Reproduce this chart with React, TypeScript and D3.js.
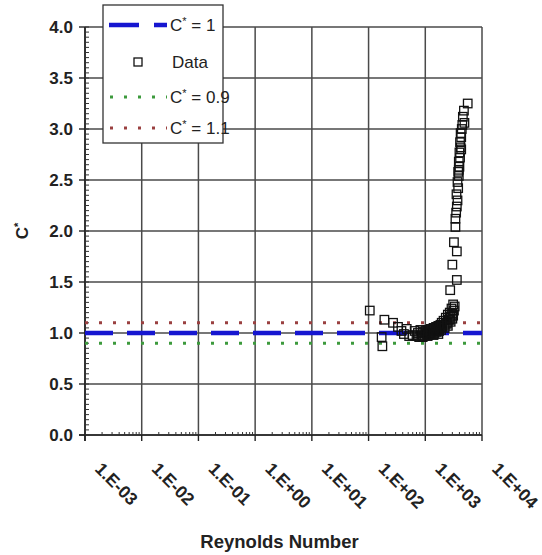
import React from "react";
import * as d3 from "d3";

// Reynolds number vs. C* observations
const reynolds: number[] = [
  // sparse low-Re points
  105, 190, 170, 175, 270, 330, 380, 420, 470, 520,
  // plateau near C* = 1
  600, 650, 700, 740, 780, 820, 860, 900, 950, 1000, 1050, 1100, 1150, 1200,
  1250, 1300, 1350, 1400, 1450, 1500, 1550, 1600, 1650, 1700, 1750, 1800,
  900, 1000, 1100, 1250, 1400, 1550, 1700,
  // onset of the rise
  1850, 1900, 1950, 2000, 2100, 2200, 2300, 2400, 2500, 2600, 2700, 2800,
  2900, 3000, 3100, 3200, 2200, 2500, 2800, 3000, 3300, 2400, 2700, 3100,
  // steep branch
  2750, 3600, 3000, 3600, 3200, 3400, 3400, 3500, 3600, 3700, 3550, 3800,
  3700, 3900, 3800, 4000, 3900, 4100, 4000, 4200, 4100, 4300, 4200, 4400,
  4500, 4900, 5600, 4600, 4800, 3900, 4300,
];
const cStar: number[] = [
  1.22, 1.13, 0.96, 0.87, 1.1, 1.06, 1.02, 0.99, 1.04, 0.97,
  0.98, 1.02, 0.97, 1.0, 0.96, 1.03, 0.98, 1.01, 0.97, 1.02, 0.99, 1.03,
  0.98, 1.0, 1.04, 0.99, 1.02, 1.05, 1.0, 1.03, 1.06, 1.01, 1.04, 1.07,
  1.02, 1.05, 0.96, 1.0, 0.97, 1.01, 0.98, 1.02, 0.99,
  1.08, 1.03, 1.1, 1.06, 1.12, 1.08, 1.15, 1.1, 1.18, 1.13, 1.2, 1.16, 1.24,
  1.19, 1.28, 1.22, 1.05, 1.07, 1.11, 1.14, 1.26, 1.09, 1.13, 1.17,
  1.42, 1.52, 1.67, 1.8, 1.89, 2.04, 2.12, 2.18, 2.24, 2.3, 2.36, 2.42,
  2.48, 2.54, 2.58, 2.63, 2.68, 2.72, 2.77, 2.82, 2.87, 2.92, 2.96, 3.0,
  3.04, 3.06, 3.25, 3.12, 3.18, 2.6, 2.8,
];

const xTickLabels = ["1.E-03", "1.E-02", "1.E-01", "1.E+00", "1.E+01", "1.E+02", "1.E+03", "1.E+04"];
const xDecades = [1e-3, 1e-2, 1e-1, 1, 10, 100, 1000, 10000];
const yTicks = [0, 0.5, 1, 1.5, 2, 2.5, 3, 3.5, 4];
const yTickLabels = ["0.0", "0.5", "1.0", "1.5", "2.0", "2.5", "3.0", "3.5", "4.0"];
const refLevels = [1, 0.9, 1.1];

const FONT = "Liberation Sans, Arial, sans-serif";

export default function App() {
  const W = 542;
  const H = 555;
  const left = 85;
  const right = 482;
  const top = 27;
  const bottom = 435;

  const x = d3.scaleLog().domain([1e-3, 1e4]).range([left, right]);
  const y = d3.scaleLinear().domain([0, 4]).range([bottom, top]);

  const minorX: number[] = [];
  for (let i = 0; i < xDecades.length - 1; i++) {
    for (let k = 2; k <= 9; k++) minorX.push(xDecades[i] * k);
  }
  const minorY = d3.range(0, 4.0001, 0.05);

  const points = reynolds.map((r, i) => ({ r, c: cStar[i] }));
  const sq = 8.5;

  const gridColor = "#4a4a4a";

  return (
    <svg
      width={W}
      height={H}
      style={{ position: "absolute", left: 0, top: 0, background: "#fff" }}
      fontFamily={FONT}
    >
      {/* grid */}
      {yTicks.map((t) => (
        <line key={"gy" + t} x1={left} x2={right} y1={y(t)} y2={y(t)} stroke={gridColor} strokeWidth={1.5} />
      ))}
      {xDecades.map((d) => (
        <line key={"gx" + d} x1={x(d)} x2={x(d)} y1={top} y2={bottom} stroke={gridColor} strokeWidth={1.5} />
      ))}

      {/* axes */}
      <line x1={left} x2={left} y1={top} y2={bottom + 6} stroke="#222" strokeWidth={1.6} />
      <line x1={left - 6} x2={right} y1={bottom} y2={bottom} stroke="#222" strokeWidth={1.6} />
      {yTicks.map((t) => (
        <line key={"ty" + t} x1={left - 6} x2={left} y1={y(t)} y2={y(t)} stroke="#222" strokeWidth={1.4} />
      ))}
      {minorY.map((t, i) => (
        <line key={"my" + i} x1={left} x2={left + 4} y1={y(t)} y2={y(t)} stroke="#333" strokeWidth={1} />
      ))}
      {xDecades.map((d) => (
        <line key={"tx" + d} x1={x(d)} x2={x(d)} y1={bottom} y2={bottom + 6} stroke="#222" strokeWidth={1.4} />
      ))}
      {minorX.map((d, i) => (
        <line key={"mx" + i} x1={x(d)} x2={x(d)} y1={bottom - 3} y2={bottom} stroke="#333" strokeWidth={1} />
      ))}

      {/* reference lines */}
      <line x1={left} x2={right} y1={y(refLevels[1])} y2={y(refLevels[1])} stroke="#3c9a3c" strokeWidth={3} strokeDasharray="3 11" />
      <line x1={left} x2={right} y1={y(refLevels[2])} y2={y(refLevels[2])} stroke="#9a4040" strokeWidth={3} strokeDasharray="3 11" />
      <line x1={left} x2={right} y1={y(refLevels[0])} y2={y(refLevels[0])} stroke="#1616d0" strokeWidth={4.5} strokeDasharray="28 14" />

      {/* data */}
      {points.map((p, i) => (
        <rect
          key={"p" + i}
          x={x(p.r) - sq / 2}
          y={y(p.c) - sq / 2}
          width={sq}
          height={sq}
          fill="none"
          stroke="#111"
          strokeWidth={1.3}
        />
      ))}

      {/* y tick labels */}
      {yTicks.map((t, i) => (
        <text key={"ly" + t} x={left - 12} y={y(t)} dy="0.36em" textAnchor="end" fontSize={17} fontWeight="bold" fill="#222">
          {yTickLabels[i]}
        </text>
      ))}

      {/* x tick labels */}
      {xDecades.map((d, i) => (
        <text
          key={"lx" + d}
          transform={`translate(${x(d) + 9},${bottom + 35}) rotate(45)`}
          fontSize={17.5}
          fontWeight="bold"
          fill="#222"
        >
          {xTickLabels[i]}
        </text>
      ))}

      {/* axis titles */}
      <text x={(left + right) / 2 - 4} y={548} textAnchor="middle" fontSize={18.5} fontWeight="bold" fill="#222">
        Reynolds Number
      </text>
      <text transform={`translate(28,${y(2.0)}) rotate(-90)`} textAnchor="middle" fontSize={17} fontWeight="bold" fill="#222">
        C<tspan dy="-6" fontSize={11}>*</tspan>
      </text>

      {/* legend */}
      <g>
        <rect x={103} y={5} width={120} height={138} fill="#fff" stroke="#333" strokeWidth={1.3} />
        <line x1={109} x2={167} y1={25} y2={25} stroke="#1616d0" strokeWidth={4.5} strokeDasharray="30 15" />
        <rect x={134} y={58} width={8} height={8} fill="none" stroke="#111" strokeWidth={1.3} />
        <line x1={110} x2={167} y1={97} y2={97} stroke="#3c9a3c" strokeWidth={3} strokeDasharray="3 11" />
        <line x1={110} x2={167} y1={128} y2={128} stroke="#9a4040" strokeWidth={3} strokeDasharray="3 11" />
        {[
          { y: 25, t: "= 1", c: true },
          { y: 62, t: "Data", c: false },
          { y: 97, t: "= 0.9", c: true },
          { y: 128, t: "= 1.1", c: true },
        ].map((e, i) =>
          e.c ? (
            <text key={"lg" + i} x={170} y={e.y} dy="0.36em" fontSize={17} fill="#222">
              C<tspan dy="-6" fontSize={11}>*</tspan>
              <tspan dy="6"> {e.t}</tspan>
            </text>
          ) : (
            <text key={"lg" + i} x={172} y={e.y} dy="0.36em" fontSize={17} fill="#222">
              {e.t}
            </text>
          )
        )}
      </g>
    </svg>
  );
}
